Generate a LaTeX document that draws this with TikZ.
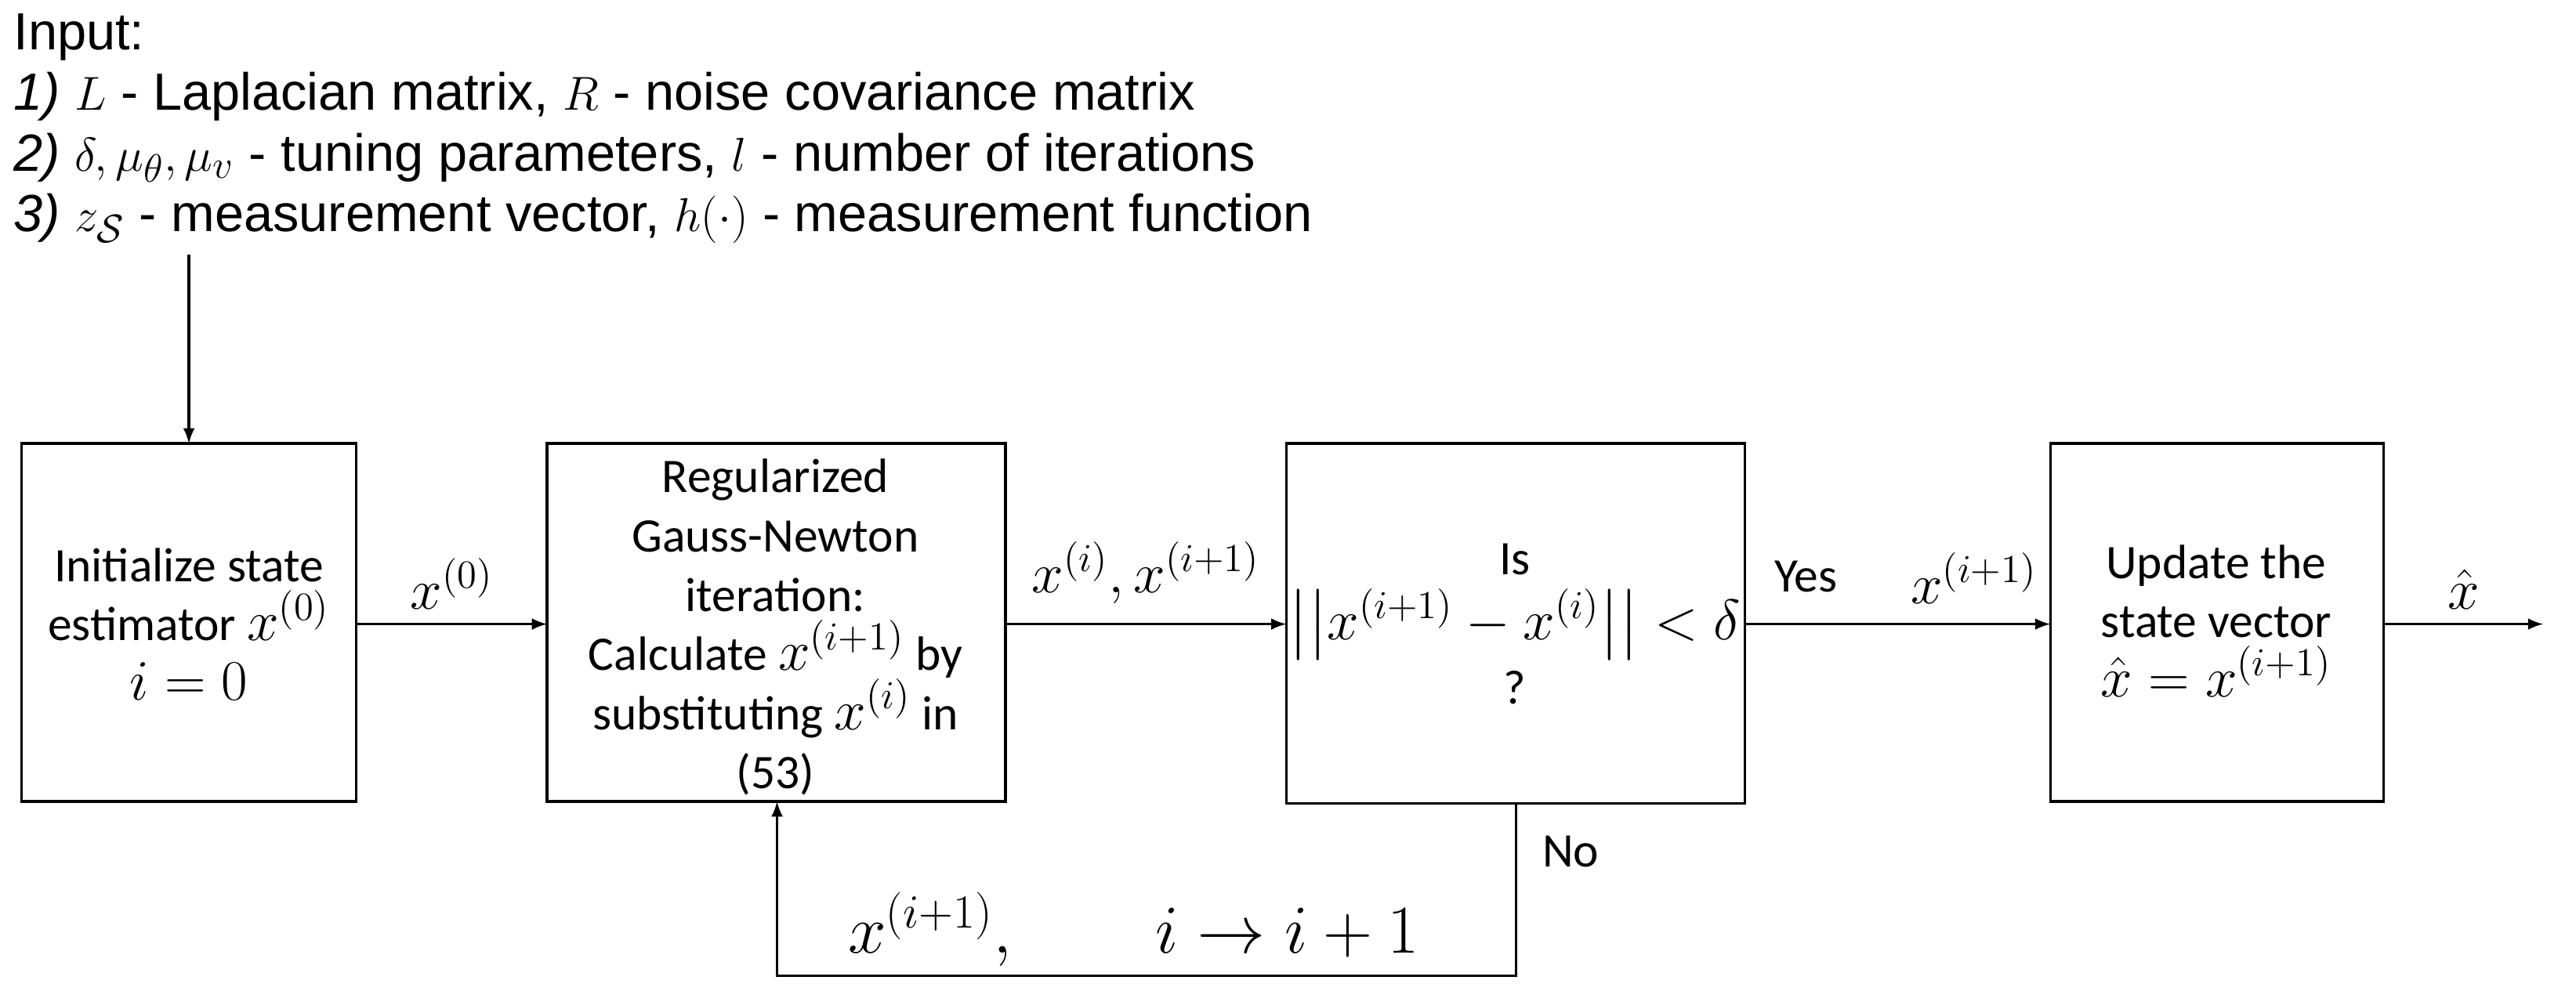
\documentclass[tikz,border=0pt]{standalone}
\usepackage{amssymb,amsmath}
\usepackage{fontspec}
\setmainfont{Carlito}
\newfontfamily\inpfont{Liberation Sans}
\usetikzlibrary{arrows,positioning}
\tikzstyle{block} = [align=center, inner sep=2pt]
\tikzstyle{lbl} = [inner sep=1pt, font=\fontsize{21}{25}\selectfont]
\newcommand{\bm}[1]{{\fontsize{20}{21}\selectfont$#1$}}

\begin{document}
\begin{tikzpicture}[x=0.02096cm,y=-0.02096cm,>=latex,line width=0.9pt,
  every node/.style={font=\fontsize{17.5}{21.5}\selectfont}]
\useasboundingbox (0,0) rectangle (1568,610);

\node[anchor=north west, align=left, font=\inpfont\fontsize{19}{22}\selectfont] (inp) at (2,2)
 {Input:\\
  \textit{1)} $L$ - Laplacian matrix, $R$ - noise covariance matrix\\
  \textit{2)} $\delta,\mu_\theta,\mu_v$ - tuning parameters, $l$ - number of iterations\\
  \textit{3)} $z_{\mathcal{S}}$ - measurement vector, $h(\cdot)$ - measurement function};

\node[block] (init) at (115,380)
 {Initialize state\\estimator \bm{x^{(0)}}\\\bm{i=0}};
\node[block] (gn) at (472,382)
 {Regularized\\Gauss-Newton\\iteration:\\Calculate \bm{x^{(i+1)}} by\\substituting \bm{x^{(i)}} in\\(53)};
\node[block] (chk) at (922,380)
 {Is\\[2pt]{\fontsize{21}{22}\selectfont$\left|\left|x^{(i+1)}-x^{(i)}\right|\right|<\delta$}\\[2pt]?};
\node[block] (upd) at (1349,378)
 {Update the\\state vector\\\bm{\hat{x}=x^{(i+1)}}};
\draw (13,270) rectangle (217,488);
\draw (333,270) rectangle (612,488);
\draw (783,270) rectangle (1062,489);
\draw (1248,270) rectangle (1451,488);

\coordinate (b1t) at (115,270);
\coordinate (b1r) at (217,380);
\coordinate (b2l) at (333,380);
\coordinate (b2r) at (612,380);
\coordinate (b3l) at (783,380);
\coordinate (b3r) at (1062,380);
\coordinate (b4l) at (1248,380);
\coordinate (b4r) at (1451,380);
\coordinate (out) at (1548,380);
\coordinate (b3b) at (923,489);
\coordinate (b2b) at (473,488);
\coordinate (ina) at (115,155);

\draw[->] (ina) -- (b1t);
\draw[->] (b1r) -- node[lbl, above=4pt] {$x^{(0)}$} (b2l);
\draw[->] (b2r) -- node[lbl, above=6pt] {$x^{(i)},x^{(i+1)}$} (b3l);
\draw[->] (b3r) -- node[lbl, pos=0.2, above=10pt, font=\fontsize{17.5}{21}\selectfont] {Yes} node[lbl, pos=0.75, above=6pt] {$x^{(i+1)}$} (b4l);
\draw[->] (b4r) -- node[lbl, above=4pt] {$\hat{x}$} (out);
\draw[->] (b3b) -- node[lbl, pos=0.28, right=8pt, font=\fontsize{17.5}{21}\selectfont] {No} (923,594) -- (473,594) -- (b2b);
\node[lbl, font=\fontsize{24}{28}\selectfont] (fb) at (690,566) {$x^{(i+1)},\qquad i\rightarrow i+1$};
\end{tikzpicture}
\end{document}
